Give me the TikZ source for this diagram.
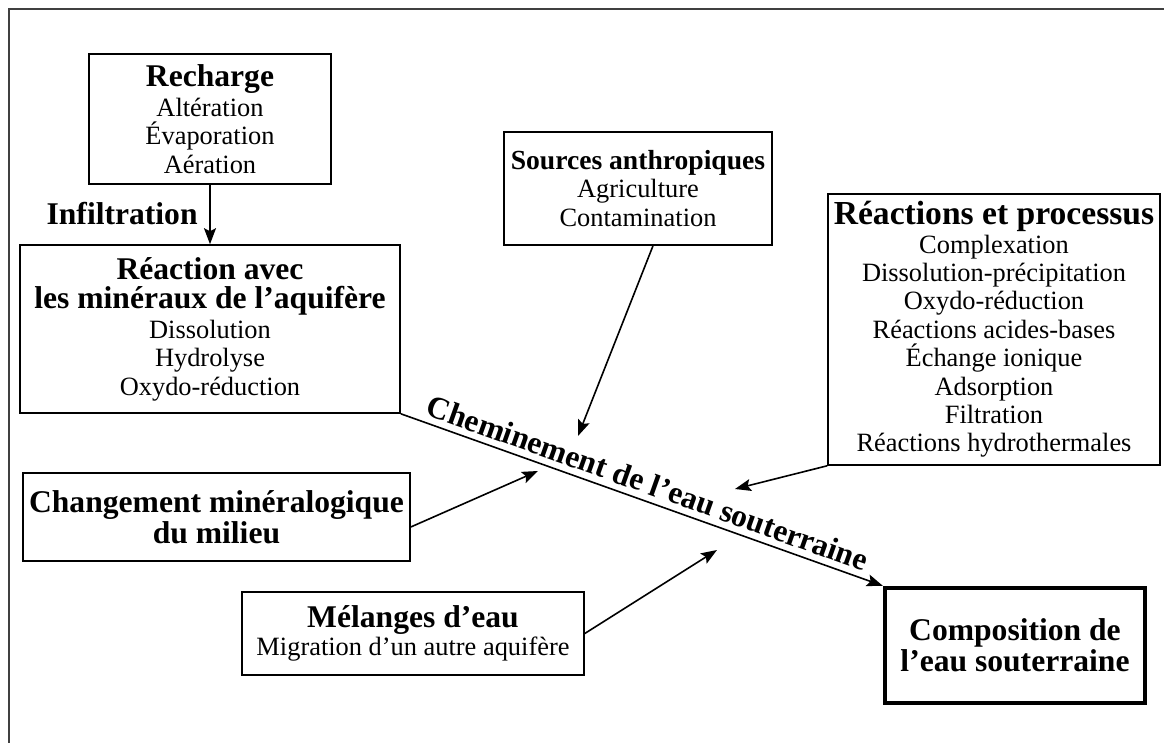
\documentclass[tikz,border=0pt]{standalone}
\usepackage{fontspec}
\setmainfont{Liberation Serif}
\usetikzlibrary{arrows.meta}
\tikzset{box/.style = {shape=rectangle,draw,line width=0.8pt,inner sep=0pt,align=center,font=\fontsize{13.2}{14.2}\selectfont}}
\tikzset{arr/.style = {-{Stealth[length=8pt,width=6pt,inset=1.5pt]},line width=0.8pt}}
\newcommand{\hd}[2][15.8]{{\fontsize{#1}{15}\selectfont\bfseries #2}}

\begin{document}
\begin{tikzpicture}[x=0.5pt,y=-0.5pt]
\useasboundingbox (0,0) rectangle (1164,743);
\draw[line width=0.8pt,black!75] (9,743) -- (9,9) -- (1164,9);
% boxes
\node[box,minimum width=121pt,minimum height=65pt] (recharge) at (210,119) {\hd{Recharge}\\[0.6pt]Altération\\Évaporation\\Aération};
\node[box,minimum width=190pt,minimum height=84pt] (reaction) at (210,329) {\hd{Réaction avec}\\[0.6pt]\hd{les minéraux de l’aquifère}\\[0.6pt]Dissolution\\Hydrolyse\\Oxydo-réduction};
\node[box,minimum width=134pt,minimum height=56.5pt] (sources) at (638,188.5) {\hd[13.8]{Sources anthropiques}\\Agriculture\\Contamination};
\node[box,minimum width=166pt,minimum height=135.5pt] (processus) at (994,329.5) {\hd[16.8]{Réactions et processus}\\Complexation\\Dissolution-précipitation\\Oxydo-réduction\\Réactions acides-bases\\Échange ionique\\Adsorption\\Filtration\\Réactions hydrothermales};
\node[box,minimum width=193.5pt,minimum height=44pt,font=\fontsize{15.8}{15.5}\selectfont\bfseries] (changement) at (216.5,517) {Changement minéralogique\\du milieu};
\node[box,minimum width=171pt,minimum height=41.5pt] (melanges) at (413,633.5) {\hd{Mélanges d’eau}\\Migration d’un autre aquifère};
\node[box,line width=2.2pt,minimum width=130pt,minimum height=57.5pt,font=\fontsize{15.8}{14.2}\selectfont\bfseries] (composition) at (1015,645.5) {Composition de\\l’eau souterraine};
\node[anchor=east,inner sep=0pt] (infil) at (198,214) {\hd{Infiltration}};
% arrow tips on the path
\coordinate (tipS) at (578,436);
\coordinate (tipP) at (735,489);
\coordinate (tipC) at (538,471);
\coordinate (tipM) at (717,550);
%arrows
\draw[arr] (recharge.south) to (reaction.north);
\draw[arr] (reaction.south east) to node[sloped,above,pos=0.5,inner sep=3pt] (chemin) {\hd{Cheminement de l’eau souterraine}} (composition.north west);
\draw[arr] ([xshift=7.5pt]sources.south) to (tipS);
\draw[arr] (processus.south west) to (tipP);
\draw[arr] ([yshift=-5pt]changement.east) to (tipC);
\draw[arr] (melanges.east) to (tipM);
\end{tikzpicture}
\end{document}
